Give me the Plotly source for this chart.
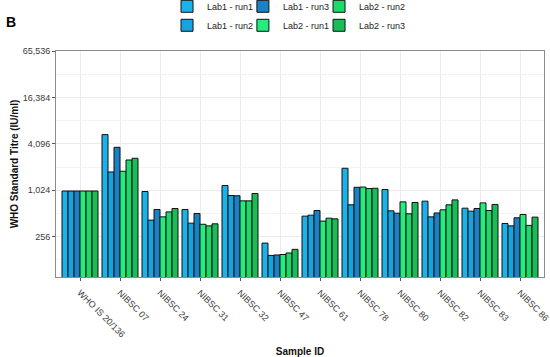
import plotly.graph_objects as go
import math

categories = ["WHO IS 20/136", "NIBSC 07", "NIBSC 24", "NIBSC 31", "NIBSC 32", "NIBSC 47",
              "NIBSC 61", "NIBSC 78", "NIBSC 80", "NIBSC 82", "NIBSC 83", "NIBSC 86"]

lab1_run1 = [1000, 5390, 985, 576, 1178, 211, 472, 1973, 1046, 738, 599, 379]
lab1_run2 = [1000, 1767, 419, 383, 874, 146, 486, 662, 553, 462, 548, 353]
lab1_run3 = [1000, 3690, 576, 511, 868, 148, 558, 1118, 516, 519, 593, 449]
lab2_run1 = [1000, 1804, 462, 370, 745, 150, 407, 1125, 723, 570, 701, 496]
lab2_run2 = [1000, 2526, 536, 353, 745, 157, 444, 1076, 506, 662, 558, 358]
lab2_run3 = [1000, 2660, 593, 375, 928, 175, 435, 1085, 710, 767, 669, 458]

series_names = ["Lab1 - run1", "Lab1 - run2", "Lab1 - run3", "Lab2 - run1", "Lab2 - run2", "Lab2 - run3"]
series_values = [lab1_run1, lab1_run2, lab1_run3, lab2_run1, lab2_run2, lab2_run3]
series_colors = ["#1BB2EA", "#17A3DF", "#1A82C4", "#25EC7A", "#1FD86A", "#1BBC58"]
series_legend = ["legend", "legend", "legend2", "legend2", "legend3", "legend3"]

y_tickvals = [256, 1024, 4096, 16384, 65536]
y_ticktext = ["256", "1,024", "4,096", "16,384", "65,536"]
y_minor = [128, 512, 2048, 8192, 32768]

y_range = [math.log10(76.6), math.log10(65536)]

fig = go.Figure()
for name, vals, col, lg in zip(series_names, series_values, series_colors, series_legend):
    fig.add_trace(go.Bar(
        x=categories, y=vals, name=name, legend=lg,
        marker=dict(color=col, line=dict(color="#111111", width=1)),
    ))
# invisible helper on an overlay axis that carries the minor gridlines
fig.add_trace(go.Scatter(x=[categories[0]], y=[1000], yaxis="y2", mode="markers",
                         marker=dict(opacity=0), showlegend=False, hoverinfo="skip"))

legend_common = dict(
    orientation="v", yanchor="top", xanchor="left",
    font=dict(family="Liberation Sans, Arial, sans-serif", size=9, color="#222222"),
    bgcolor="rgba(0,0,0,0)", tracegroupgap=0,
)

fig.update_layout(
    width=550, height=357,
    margin=dict(l=56, r=6, t=51, b=80, autoexpand=False),
    paper_bgcolor="white", plot_bgcolor="white",
    barmode="group", bargap=0.1, bargroupgap=0,
    font=dict(family="Liberation Sans, Arial, sans-serif", size=9, color="#4D4D4D"),
    legend=dict(x=0.2275, y=1.262, **legend_common),
    legend2=dict(x=0.383, y=1.262, **legend_common),
    legend3=dict(x=0.539, y=1.262, **legend_common),
    xaxis=dict(
        type="category", range=[-0.6, len(categories) - 0.4],
        tickangle=45, ticks="outside", ticklen=3, tickcolor="#555555",
        ticklabelstandoff=3,
        showline=True, linecolor="#8C8C8C", linewidth=1, mirror=True,
        showgrid=True, gridcolor="#EBEBEB", gridwidth=1,
        tickfont=dict(size=9, color="#3A3A3A"),
        title=dict(text="<b>Sample ID</b>", font=dict(size=10, color="#111111"), standoff=10),
    ),
    yaxis=dict(
        type="log", range=y_range,
        tickmode="array", tickvals=y_tickvals, ticktext=y_ticktext,
        ticks="outside", ticklen=3, tickcolor="#555555",
        showline=True, linecolor="#8C8C8C", linewidth=1, mirror=True,
        showgrid=True, gridcolor="#EBEBEB", gridwidth=1,
        tickfont=dict(size=9, color="#3A3A3A"),
        title=dict(text="<b>WHO Standard Titre (IU/ml)</b>", font=dict(size=10, color="#111111"), standoff=2),
        zeroline=False,
    ),
    yaxis2=dict(
        type="log", range=y_range, overlaying="y", side="left",
        tickmode="array", tickvals=y_minor, showticklabels=False, ticks="",
        showgrid=True, gridcolor="#F3F3F3", gridwidth=0.6, showline=False, zeroline=False,
    ),
    annotations=[dict(
        text="<b>B</b>", xref="paper", yref="paper", x=-0.107, y=1.128,
        xanchor="left", yanchor="middle", showarrow=False,
        font=dict(size=14, color="#000000"),
    )],
)

fig.write_html("out.html", config={"displayModeBar": False},
               post_script="document.body.style.margin='0';")
